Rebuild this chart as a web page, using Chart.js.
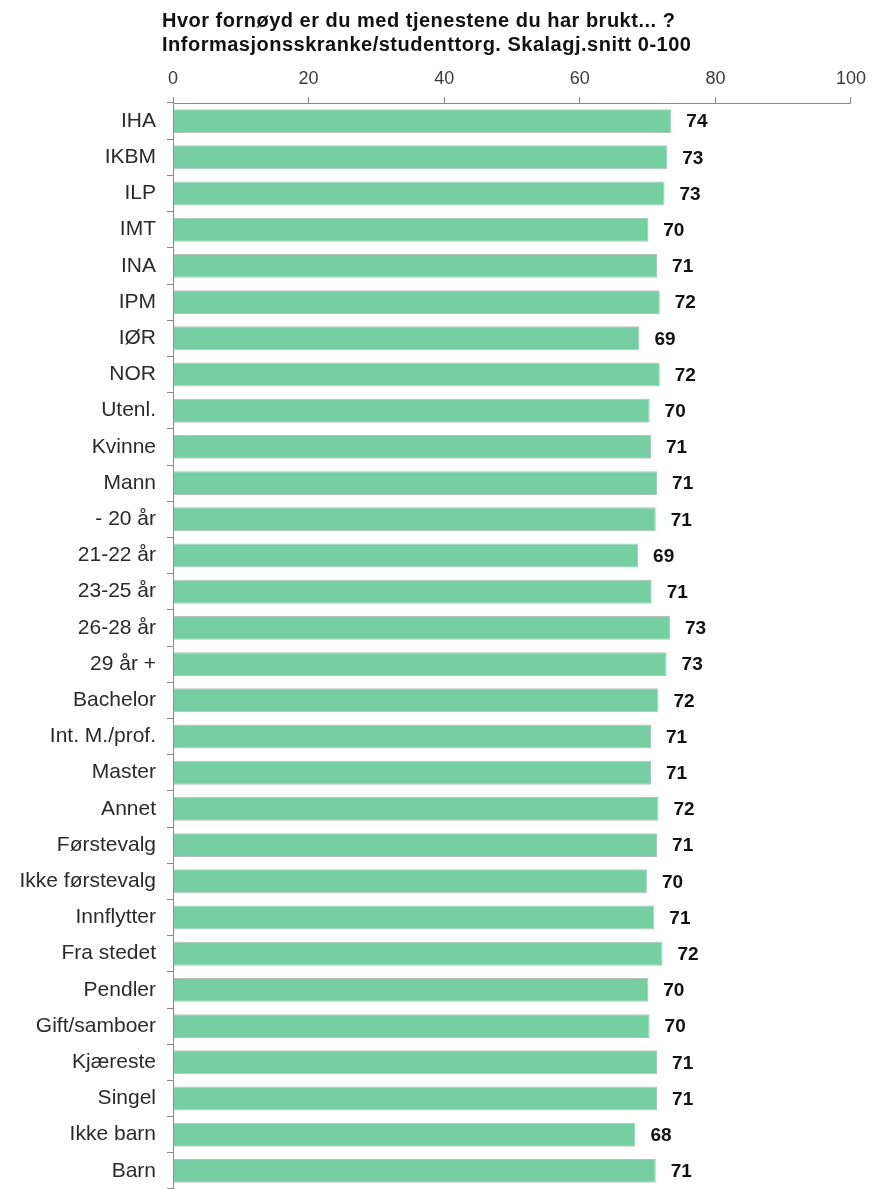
<!DOCTYPE html>
<html>
<head>
<meta charset="utf-8">
<script src="https://cdn.jsdelivr.net/npm/chart.js@4"></script>
<style>
  html, body { margin: 0; padding: 0; background: #fff; }
  #wrap { position: relative; width: 873px; height: 1189px; }
  #title {
    position: absolute; left: 162px; top: 8px;
    font: bold 20px "Liberation Sans", Arial, sans-serif;
    letter-spacing: 0.5px;
    line-height: 24px; color: #111; white-space: nowrap;
  }
</style>
</head>
<body>
<div id="wrap">
  <canvas id="mycanvas" width="873" height="1189"></canvas>
  <div id="title">Hvor fornøyd er du med tjenestene du har brukt... ?<br>Informasjonsskranke/studenttorg. Skalagj.snitt 0-100</div>
</div>
<script>
var groups = ['IHA', 'IKBM', 'ILP', 'IMT', 'INA', 'IPM', 'IØR', 'NOR', 'Utenl.', 'Kvinne',
  'Mann', '- 20 år', '21-22 år', '23-25 år', '26-28 år', '29 år +', 'Bachelor', 'Int. M./prof.',
  'Master', 'Annet', 'Førstevalg', 'Ikke førstevalg', 'Innflytter', 'Fra stedet', 'Pendler',
  'Gift/samboer', 'Kjæreste', 'Singel', 'Ikke barn', 'Barn'];

// bar lengths
var scores = [73.5, 72.9, 72.5, 70.1, 71.4, 71.8, 68.8, 71.8, 70.3, 70.5,
  71.4, 71.2, 68.6, 70.6, 73.3, 72.8, 71.6, 70.5, 70.5, 71.6,
  71.4, 69.9, 71.0, 72.2, 70.1, 70.3, 71.4, 71.4, 68.2, 71.2];

// numbers printed next to the bars
var printed = [74, 73, 73, 70, 71, 72, 69, 72, 70, 71,
  71, 71, 69, 71, 73, 73, 72, 71, 71, 72,
  71, 70, 71, 72, 70, 70, 71, 71, 68, 71];

var axisTicks = [0, 20, 40, 60, 80, 100];

var valueLabels = {
  id: 'valueLabels',
  afterDatasetsDraw: function (chart) {
    var ctx = chart.ctx;
    var meta = chart.getDatasetMeta(0);
    ctx.save();
    ctx.font = 'bold 19px "Liberation Sans", Arial, sans-serif';
    ctx.fillStyle = '#111';
    ctx.textAlign = 'left';
    ctx.textBaseline = 'middle';
    meta.data.forEach(function (bar, i) {
      ctx.fillText(String(printed[i]), bar.x + 15, bar.y + 1);
    });
    ctx.restore();
  }
};

var ctx = document.getElementById('mycanvas');

var barGraph = new Chart(ctx, {
  type: 'bar',
  data: {
    labels: groups,
    datasets: [{
      data: scores,
      backgroundColor: 'rgb(118, 207, 163)',
      borderColor: 'rgba(130, 150, 140, 0.6)',
      borderWidth: 1,
      barPercentage: 0.66,
      categoryPercentage: 1
    }]
  },
  options: {
    indexAxis: 'y',
    responsive: false,
    animation: false,
    layout: { padding: { left: 0, right: 21, top: 0, bottom: 0 } },
    plugins: {
      legend: { display: false },
      tooltip: { enabled: false },
      title: { display: false }
    },
    scales: {
      x: {
        position: 'top',
        min: 0,
        max: 100,
        afterBuildTicks: function (scale) {
          scale.ticks = axisTicks.map(function (v) { return { value: v }; });
        },
        afterFit: function (scale) { scale.height = 103; },
        grid: { drawOnChartArea: false, tickLength: 6, color: '#8a8a8a' },
        border: { color: '#8a8a8a', width: 1 },
        ticks: {
          padding: 7,
          color: '#3a3a3a',
          font: { family: '"Liberation Sans", Arial, sans-serif', size: 18 }
        }
      },
      y: {
        afterFit: function (scale) {
          scale.width = 173;
          scale.paddingTop = 0;
          scale.paddingBottom = 0;
        },
        grid: { offset: true, drawOnChartArea: false, tickLength: 6, color: '#8a8a8a' },
        border: { color: '#8a8a8a', width: 1 },
        ticks: {
          padding: 11,
          autoSkip: false,
          color: '#2a2a2a',
          font: { family: '"Liberation Sans", Arial, sans-serif', size: 21 }
        }
      }
    }
  },
  plugins: [valueLabels]
});
</script>
</body>
</html>
